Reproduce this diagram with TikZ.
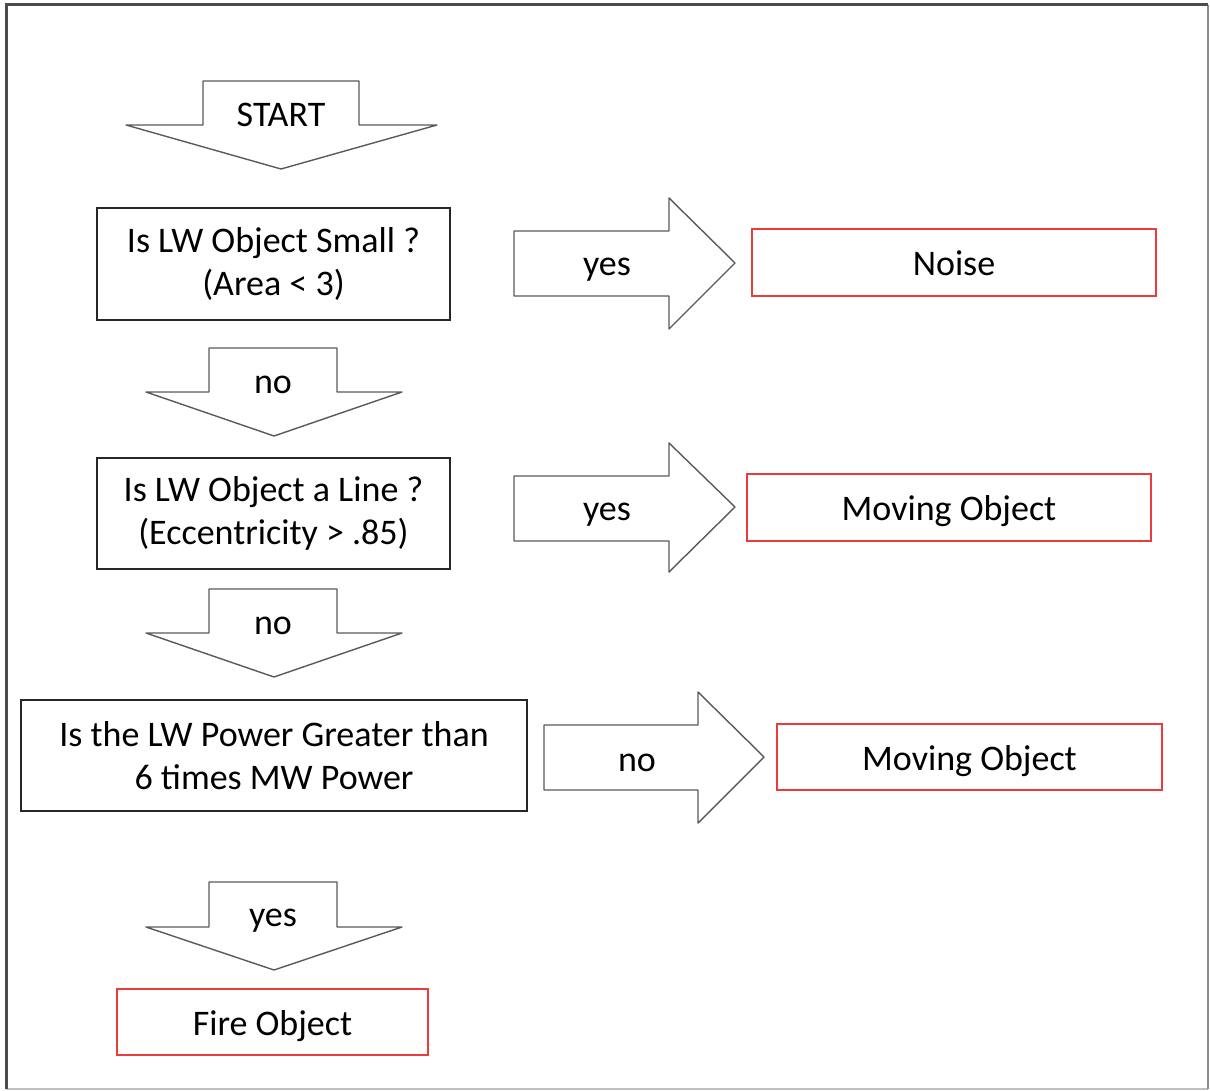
\documentclass[tikz,border=0pt]{standalone}
\usepackage{fontspec}
\setmainfont{Carlito}
\definecolor{redline}{RGB}{235,60,60}
\definecolor{arrowgray}{RGB}{90,90,90}
\begin{document}
\begin{tikzpicture}[x=0.5pt,y=-0.5pt,
  font=\fontsize{18}{21.5}\selectfont,
  qbox/.style={draw=black!85,line width=0.75pt,align=center,inner sep=0pt},
  rbox/.style={draw=redline,line width=0.75pt,align=center,inner sep=0pt,text height=15pt,text depth=2pt},
  barrow/.style={draw=arrowgray,line width=0.7pt,fill=white,line join=round},
  lbl/.style={inner sep=0pt}]
\useasboundingbox (0,0) rectangle (1210,1091);
% frame
\draw[black!25,line width=1.2pt] (6,1089) -- (1208,1089);
\draw[black!45,line width=1.2pt] (1208,1089) -- (1208,5);
\draw[black!70,line width=1.5pt] (6,1089) -- (6,5) -- (1208,5);

% START arrow
\draw[barrow] (203,81) -- (359,81) -- (359,125) -- (437,125) -- (281,169) -- (126,125) -- (203,125) -- cycle;
\node[lbl] (start) at (281,115) {START};

% question boxes
\node[qbox,minimum width=176.5pt,minimum height=56pt] (q1) at (273.5,264)
  {Is LW Object Small ?\\(Area < 3)};
\node[qbox,minimum width=176.5pt,minimum height=55.5pt] (q2) at (273.5,513.5)
  {Is LW Object a Line ?\\(Eccentricity > .85)};
\node[qbox,minimum width=253pt,minimum height=55.5pt] (q3) at (274,755.5)
  {Is the LW Power Greater than\\6 times MW Power};

% result boxes
\node[rbox,minimum width=202pt,minimum height=33.5pt] (noise) at (954,262.5) {Noise};
\node[rbox,minimum width=202pt,minimum height=33.5pt] (mov1) at (949,507.5) {Moving Object};
\node[rbox,minimum width=192.5pt,minimum height=33pt] (mov2) at (969.5,757) {Moving Object};
\node[rbox,minimum width=155.5pt,minimum height=33pt] (fire) at (272.5,1022) {Fire Object};

% down arrows
\draw[barrow] (209,348) -- (337,348) -- (337,392) -- (402,392) -- (274,436) -- (146,392) -- (209,392) -- cycle;
\node[lbl] (no1) at (273,385) {no};
\draw[barrow] (209,589) -- (337,589) -- (337,633) -- (402,633) -- (274,677) -- (146,633) -- (209,633) -- cycle;
\node[lbl] (no2) at (273,626) {no};
\draw[barrow] (209,882) -- (337,882) -- (337,927) -- (402,927) -- (274,970) -- (146,927) -- (209,927) -- cycle;
\node[lbl] (yes3) at (273,921) {yes};

% right arrows
\draw[barrow] (514,231) -- (669,231) -- (669,198) -- (735,263) -- (669,329) -- (669,296) -- (514,296) -- cycle;
\node[lbl] (yes1) at (607,270) {yes};
\draw[barrow] (514,476) -- (669,476) -- (669,443) -- (735,507) -- (669,572) -- (669,541) -- (514,541) -- cycle;
\node[lbl] (yes2) at (607,515) {yes};
\draw[barrow] (544,725) -- (698,725) -- (698,692) -- (764,757) -- (698,823) -- (698,790) -- (544,790) -- cycle;
\node[lbl] (no3) at (637,763) {no};
\end{tikzpicture}
\end{document}
